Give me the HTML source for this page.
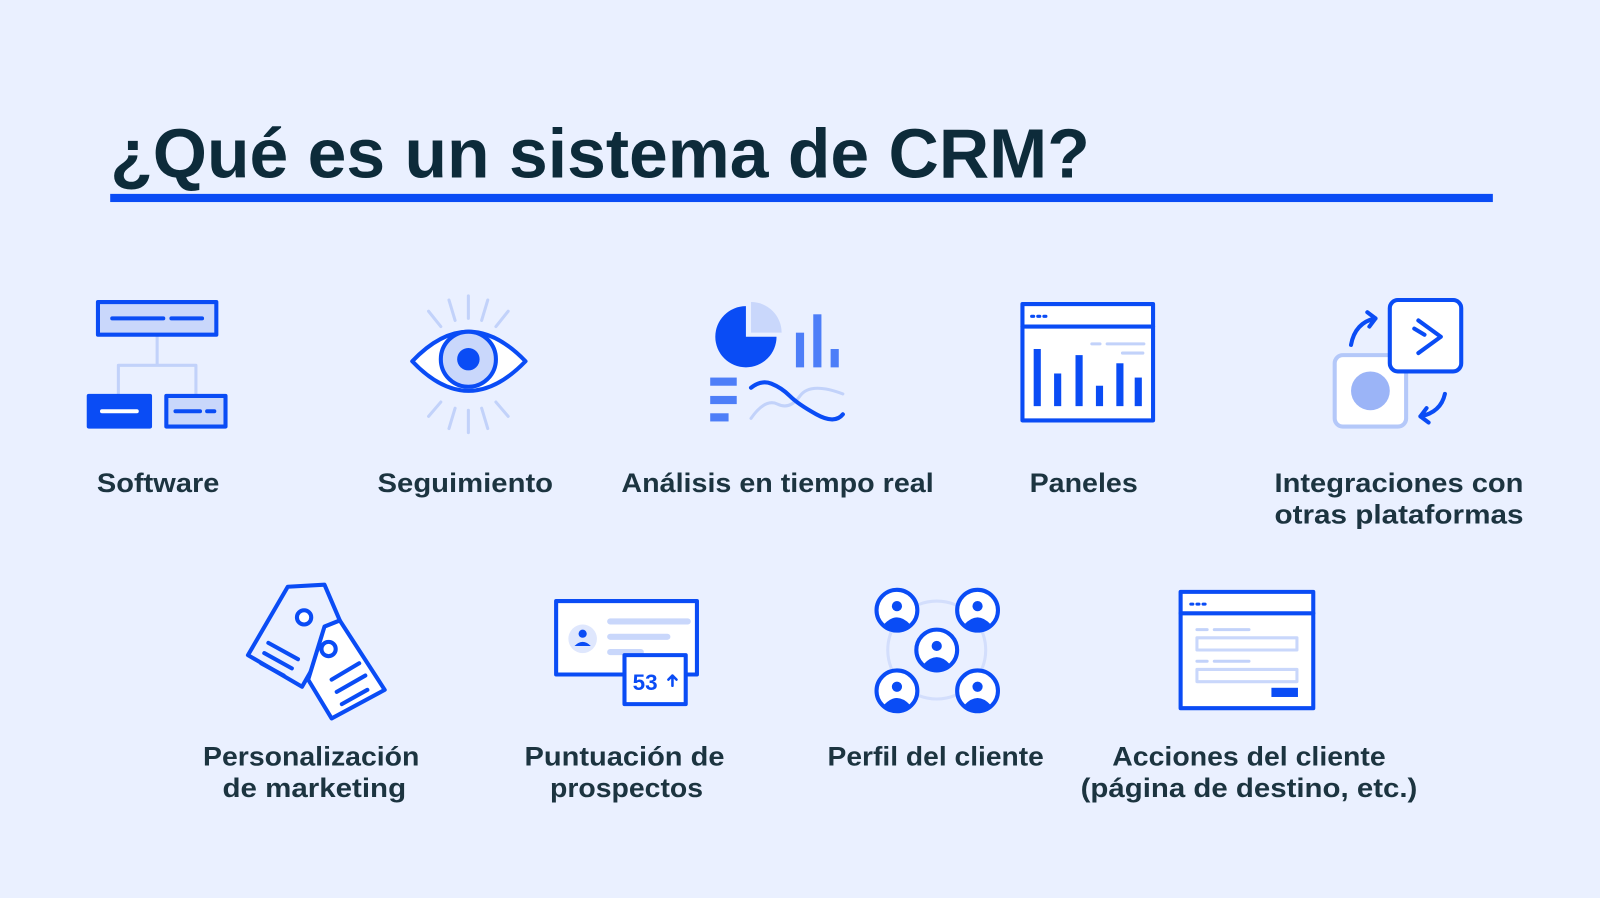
<!DOCTYPE html>
<html><head><meta charset="utf-8"><style>
html,body{margin:0;padding:0;background:#eaf0ff;}
svg{display:block}
text{font-family:"Liberation Sans",sans-serif;font-weight:bold;fill:#1c3440;}
</style></head><body>
<svg width="1600" height="898" viewBox="0 0 1568 880" preserveAspectRatio="none" xmlns="http://www.w3.org/2000/svg">
<rect width="1568" height="880" fill="#eaf0ff"/>
<text x="108" y="174" font-size="68" textLength="960" lengthAdjust="spacingAndGlyphs" style="fill:#0d2b3a">¿Qué es un sistema de CRM?</text>
<rect x="108" y="190" width="1355" height="8" fill="#0a4cf5"/>

<g stroke="#0a4cf5" stroke-width="4" fill="none" stroke-linecap="round" stroke-linejoin="round">
<path d="M154 328V358M116 388V358H192V388" stroke="#c2d2fa" stroke-width="3"/>
<rect x="96" y="296" width="116" height="32" fill="#c9d7fb"/>
<path d="M110 312H160M168 312H198"/>
<rect x="87" y="388" width="60" height="30" fill="#0a4cf5"/>
<path d="M100 403H134" stroke="#fff"/>
<rect x="163" y="388" width="58" height="30" fill="#c9d7fb"/>
<path d="M172 403H196M203 403H210"/>
<g stroke="#c2d2fa" stroke-width="3">
<path d="M459 290V312M440 294L446 314M478 294L472 314M420 305L432 320M498 305L486 320"/>
<path d="M459 402V424M440 420L446 400M478 420L472 400M420 408L432 394M498 408L486 394"/>
</g>
<path d="M404 354Q459 296 515 354Q459 412 404 354Z" fill="#fff"/>
<circle cx="459" cy="352" r="27" fill="#c9d7fb"/>
<circle cx="459" cy="352" r="11" fill="#0a4cf5" stroke="none"/>
<path d="M731 300A30 30 0 1 0 761 330L731 330Z" fill="#0a4cf5" stroke="none"/>
<path d="M736 296A30 30 0 0 1 766 326L736 326Z" fill="#c9d7fb" stroke="none"/>
<rect x="780" y="326" width="8" height="34" fill="#4d7ef8" stroke="none"/>
<rect x="797" y="308" width="8" height="52" fill="#4d7ef8" stroke="none"/>
<rect x="814" y="342" width="8" height="18" fill="#4d7ef8" stroke="none"/>
<rect x="696" y="370" width="26" height="8" fill="#4d7ef8" stroke="none"/>
<rect x="696" y="388" width="26" height="8" fill="#4d7ef8" stroke="none"/>
<rect x="696" y="405" width="18" height="8" fill="#4d7ef8" stroke="none"/>
<path d="M736 410Q750 390 762 396T784 388T826 386" stroke="#c2d2fa" stroke-width="3"/>
<path d="M736 380Q746 372 756 376T774 388T800 406T826 406"/>
<rect x="1002" y="298" width="128" height="114" fill="#fff"/>
<path d="M1002 320H1130"/>
<path d="M1011 310h2M1017 310h2M1023 310h2" stroke-width="3"/>
<path d="M1070 337h8M1085 337h36M1100 346h20" stroke="#c2d2fa" stroke-width="3"/>
<g stroke="none" fill="#0a4cf5">
<rect x="1013" y="342" width="7" height="56"/><rect x="1033" y="366" width="7" height="32"/><rect x="1054" y="348" width="7" height="50"/><rect x="1074" y="378" width="7" height="20"/><rect x="1094" y="356" width="7" height="42"/><rect x="1112" y="370" width="7" height="28"/>
</g>
<rect x="1308" y="348" width="70" height="70" rx="8" fill="#fff" stroke="#b4c8f9"/>
<circle cx="1343" cy="383" r="19" fill="#9bb4f7" stroke="none"/>
<rect x="1362" y="294" width="70" height="70" rx="8" fill="#fff"/>
<path d="M1390 314L1412 330L1390 346M1386 322L1396 328"/>
<path d="M1324 338Q1328 316 1348 312M1340 306L1348 312L1342 320"/>
<path d="M1416 386Q1412 404 1392 408M1398 400L1392 408L1400 414"/>
<path d="M282 575L318 573L333 608L296 673L243 642Z" fill="#eaf0ff"/>
<circle cx="298" cy="605" r="7" fill="#fff"/>
<path d="M263 630L292 646M259 640L286 655M256 650L278 662"/>
<path d="M333 608L377 676L325 704L302 666L318 614Z" fill="#fff"/>
<circle cx="322" cy="636" r="7" fill="#fff"/>
<path d="M325 666L352 650M330 678L358 662M335 690L360 676"/>
<rect x="545" y="589" width="138" height="72" fill="#fff"/>
<circle cx="571" cy="626" r="14" fill="#dfe7fd" stroke="none"/>
<circle cx="571" cy="621" r="4" fill="#0a4cf5" stroke="none"/>
<path d="M563 633Q571 625 579 633Z" fill="#0a4cf5" stroke="none"/>
<path d="M598 609H674M598 624H654M598 639H628" stroke="#c9d7fb" stroke-width="6"/>
<rect x="612" y="642" width="60" height="48" fill="#fff"/>
<text x="620" y="676" font-size="22" style="fill:#0a4cf5" stroke="none">53</text>
<path d="M659 672V662M655 666L659 662L663 666" stroke-width="2.5"/>
<circle cx="918" cy="637" r="48" stroke="#d3defc" stroke-width="3"/>
<rect x="1157" y="580" width="130" height="114" fill="#fff"/>
<path d="M1157 601H1287"/>
<path d="M1167 592h2M1173 592h2M1179 592h2" stroke-width="3"/>
<path d="M1173 617h10M1190 617h34M1173 648h10M1190 648h34" stroke="#c2d2fa" stroke-width="3"/>
<rect x="1173" y="625" width="98" height="12" stroke="#c9d7fb" stroke-width="3"/>
<rect x="1173" y="656" width="98" height="12" stroke="#c9d7fb" stroke-width="3"/>
<rect x="1246" y="674" width="26" height="9" fill="#0a4cf5" stroke="none"/>
</g>
<g fill="#fff" stroke="#0a4cf5" stroke-width="4">
<circle cx="879" cy="598" r="20"/><circle cx="958" cy="598" r="20"/><circle cx="918" cy="637" r="20"/><circle cx="879" cy="677" r="20"/><circle cx="958" cy="677" r="20"/>
</g>
<g fill="#0a4cf5">
<circle cx="879" cy="594" r="5"/><path d="M866 612Q879 598 892 612Q879 622 866 612Z"/>
<circle cx="958" cy="594" r="5"/><path d="M945 612Q958 598 971 612Q958 622 945 612Z"/>
<circle cx="918" cy="633" r="5"/><path d="M905 651Q918 637 931 651Q918 661 905 651Z"/>
<circle cx="879" cy="673" r="5"/><path d="M866 691Q879 677 892 691Q879 701 866 691Z"/>
<circle cx="958" cy="673" r="5"/><path d="M945 691Q958 677 971 691Q958 701 945 691Z"/>
</g>

<g font-size="26" text-anchor="middle">
<text x="155" y="482" textLength="120" lengthAdjust="spacingAndGlyphs">Software</text>
<text x="456" y="482" textLength="172" lengthAdjust="spacingAndGlyphs">Seguimiento</text>
<text x="762" y="482" textLength="306" lengthAdjust="spacingAndGlyphs">Análisis en tiempo real</text>
<text x="1062" y="482" textLength="106" lengthAdjust="spacingAndGlyphs">Paneles</text>
<text x="1371" y="482" textLength="244" lengthAdjust="spacingAndGlyphs">Integraciones con</text>
<text x="1371" y="513" textLength="244" lengthAdjust="spacingAndGlyphs">otras plataformas</text>
<text x="305" y="750" textLength="212" lengthAdjust="spacingAndGlyphs">Personalización</text>
<text x="308" y="781" textLength="180" lengthAdjust="spacingAndGlyphs">de marketing</text>
<text x="612" y="750" textLength="196" lengthAdjust="spacingAndGlyphs">Puntuación de</text>
<text x="614" y="781" textLength="150" lengthAdjust="spacingAndGlyphs">prospectos</text>
<text x="917" y="750" textLength="212" lengthAdjust="spacingAndGlyphs">Perfil del cliente</text>
<text x="1224" y="750" textLength="268" lengthAdjust="spacingAndGlyphs">Acciones del cliente</text>
<text x="1224" y="781" textLength="330" lengthAdjust="spacingAndGlyphs">(página de destino, etc.)</text>
</g>
</svg>
</body></html>
